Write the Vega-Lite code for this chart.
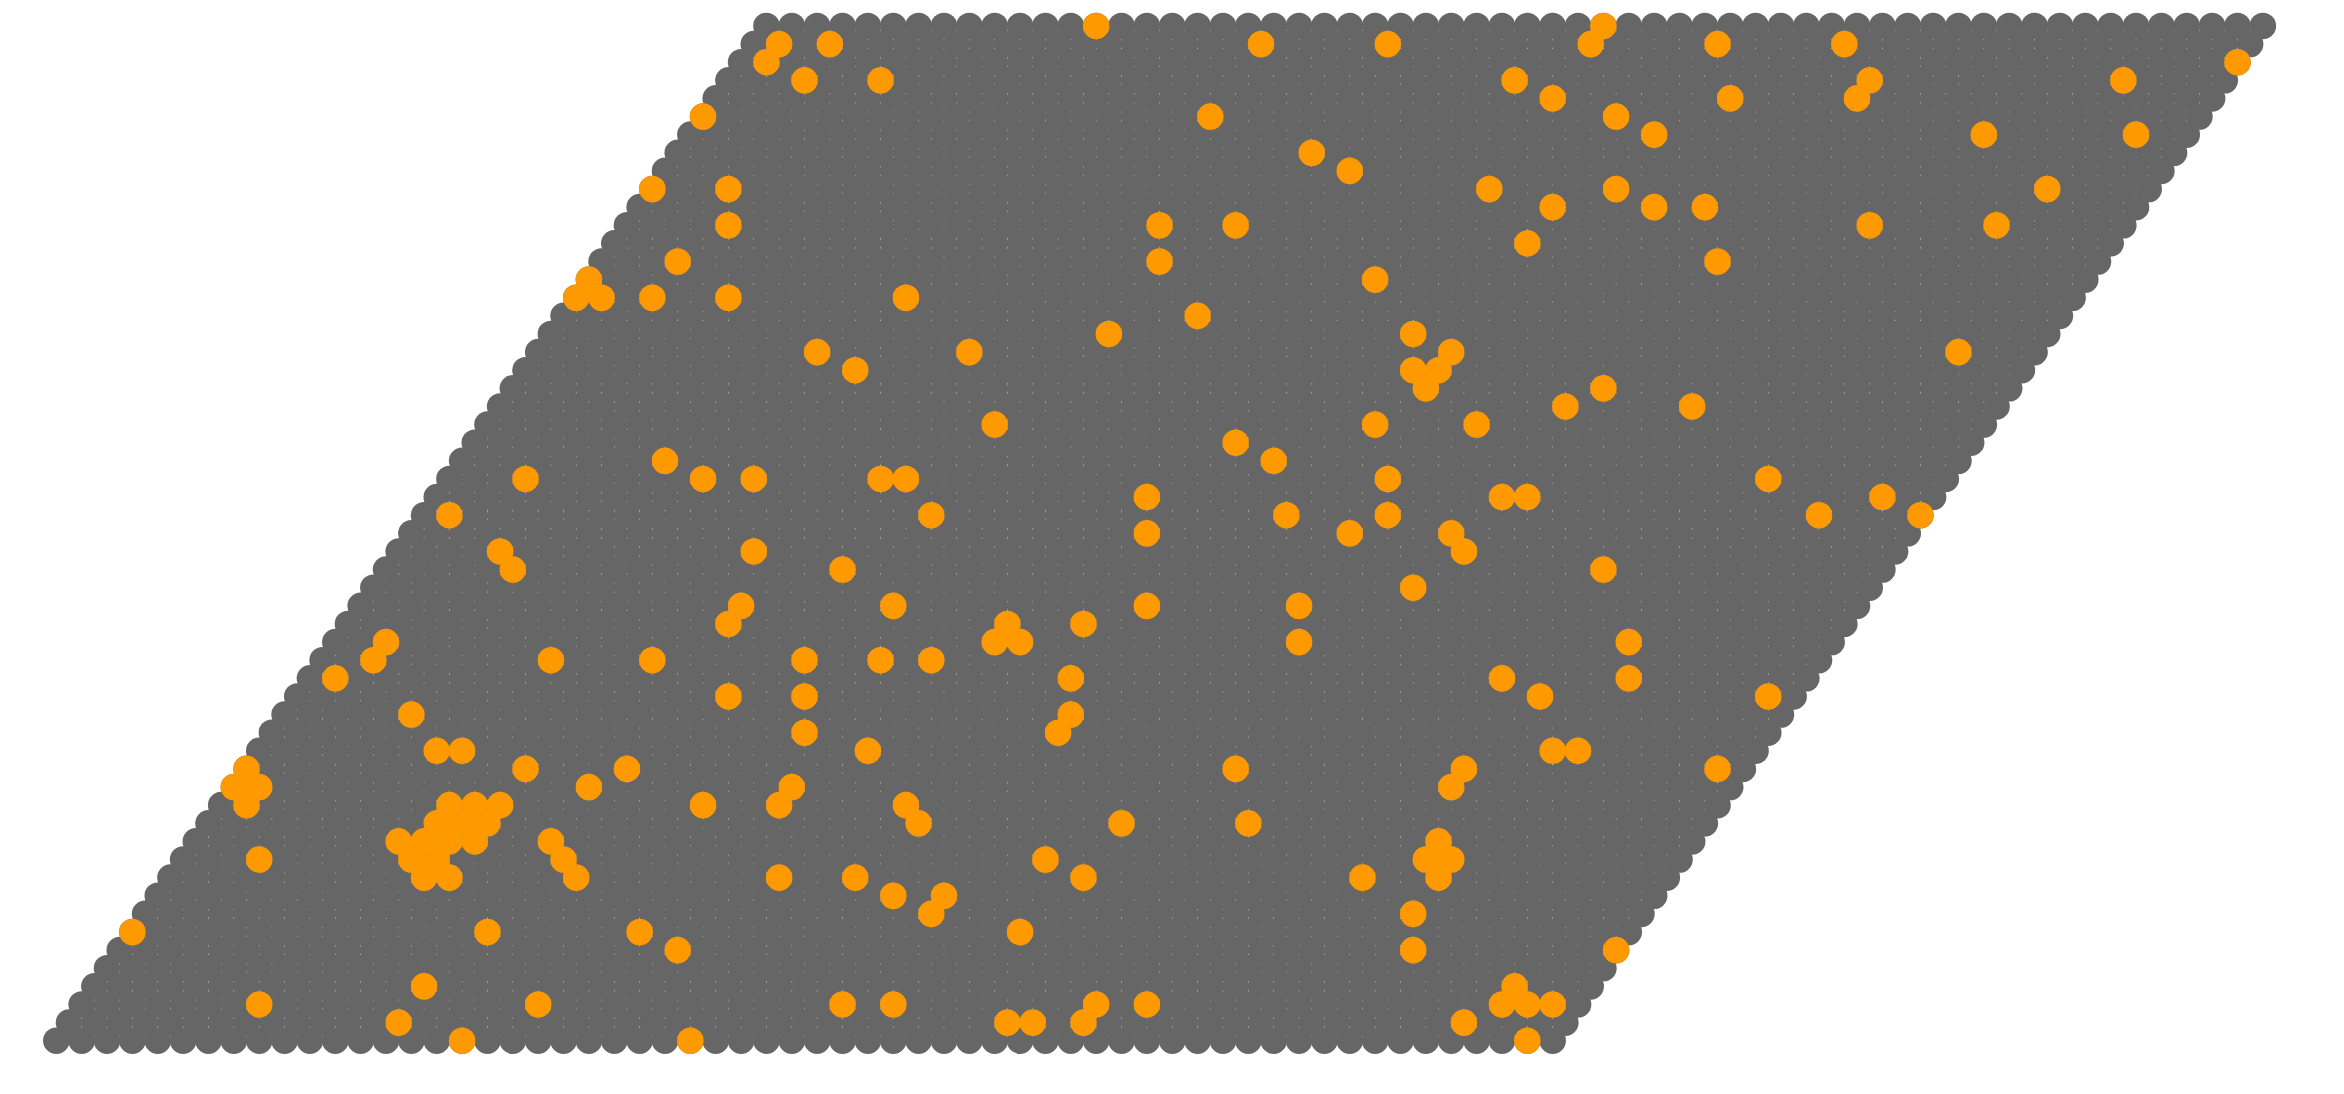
{
"$schema": "https://vega.github.io/schema/vega-lite/v6.json",
"width": 2344,
"height": 1094,
"autosize": "none",
"padding": 0,
"background": "white",
"config": {"view": {"stroke": null}},
"datasets": {
"cells": [
{"row":0,"col":[0,2,4,6,8,10,12,14,16,18,20,22,24,26,28,30,32,34,36,38,40,42,44,46,48,50,52,54,56,58,60,62,64,66,68,70,72,74,76,78,80,82,84,86,88,90,92,94,96,98,100,102,104,106,108,110,112,114,116,118]},
{"row":1,"col":[1,3,5,7,9,11,13,15,17,19,21,23,25,27,29,31,33,35,37,39,41,43,45,47,49,51,53,55,57,59,61,63,65,67,69,71,73,75,77,79,81,83,85,87,89,91,93,95,97,99,101,103,105,107,109,111,113,115,117,119]},
{"row":2,"col":[2,4,6,8,10,12,14,16,18,20,22,24,26,28,30,32,34,36,38,40,42,44,46,48,50,52,54,56,58,60,62,64,66,68,70,72,74,76,78,80,82,84,86,88,90,92,94,96,98,100,102,104,106,108,110,112,114,116,118,120]},
{"row":3,"col":[3,5,7,9,11,13,15,17,19,21,23,25,27,29,31,33,35,37,39,41,43,45,47,49,51,53,55,57,59,61,63,65,67,69,71,73,75,77,79,81,83,85,87,89,91,93,95,97,99,101,103,105,107,109,111,113,115,117,119,121]},
{"row":4,"col":[4,6,8,10,12,14,16,18,20,22,24,26,28,30,32,34,36,38,40,42,44,46,48,50,52,54,56,58,60,62,64,66,68,70,72,74,76,78,80,82,84,86,88,90,92,94,96,98,100,102,104,106,108,110,112,114,116,118,120,122]},
{"row":5,"col":[5,7,9,11,13,15,17,19,21,23,25,27,29,31,33,35,37,39,41,43,45,47,49,51,53,55,57,59,61,63,65,67,69,71,73,75,77,79,81,83,85,87,89,91,93,95,97,99,101,103,105,107,109,111,113,115,117,119,121,123]},
{"row":6,"col":[6,8,10,12,14,16,18,20,22,24,26,28,30,32,34,36,38,40,42,44,46,48,50,52,54,56,58,60,62,64,66,68,70,72,74,76,78,80,82,84,86,88,90,92,94,96,98,100,102,104,106,108,110,112,114,116,118,120,122,124]},
{"row":7,"col":[7,9,11,13,15,17,19,21,23,25,27,29,31,33,35,37,39,41,43,45,47,49,51,53,55,57,59,61,63,65,67,69,71,73,75,77,79,81,83,85,87,89,91,93,95,97,99,101,103,105,107,109,111,113,115,117,119,121,123,125]},
{"row":8,"col":[8,10,12,14,16,18,20,22,24,26,28,30,32,34,36,38,40,42,44,46,48,50,52,54,56,58,60,62,64,66,68,70,72,74,76,78,80,82,84,86,88,90,92,94,96,98,100,102,104,106,108,110,112,114,116,118,120,122,124,126]},
{"row":9,"col":[9,11,13,15,17,19,21,23,25,27,29,31,33,35,37,39,41,43,45,47,49,51,53,55,57,59,61,63,65,67,69,71,73,75,77,79,81,83,85,87,89,91,93,95,97,99,101,103,105,107,109,111,113,115,117,119,121,123,125,127]},
{"row":10,"col":[10,12,14,16,18,20,22,24,26,28,30,32,34,36,38,40,42,44,46,48,50,52,54,56,58,60,62,64,66,68,70,72,74,76,78,80,82,84,86,88,90,92,94,96,98,100,102,104,106,108,110,112,114,116,118,120,122,124,126,128]},
{"row":11,"col":[11,13,15,17,19,21,23,25,27,29,31,33,35,37,39,41,43,45,47,49,51,53,55,57,59,61,63,65,67,69,71,73,75,77,79,81,83,85,87,89,91,93,95,97,99,101,103,105,107,109,111,113,115,117,119,121,123,125,127,129]},
{"row":12,"col":[12,14,16,18,20,22,24,26,28,30,32,34,36,38,40,42,44,46,48,50,52,54,56,58,60,62,64,66,68,70,72,74,76,78,80,82,84,86,88,90,92,94,96,98,100,102,104,106,108,110,112,114,116,118,120,122,124,126,128,130]},
{"row":13,"col":[13,15,17,19,21,23,25,27,29,31,33,35,37,39,41,43,45,47,49,51,53,55,57,59,61,63,65,67,69,71,73,75,77,79,81,83,85,87,89,91,93,95,97,99,101,103,105,107,109,111,113,115,117,119,121,123,125,127,129,131]},
{"row":14,"col":[14,16,18,20,22,24,26,28,30,32,34,36,38,40,42,44,46,48,50,52,54,56,58,60,62,64,66,68,70,72,74,76,78,80,82,84,86,88,90,92,94,96,98,100,102,104,106,108,110,112,114,116,118,120,122,124,126,128,130,132]},
{"row":15,"col":[15,17,19,21,23,25,27,29,31,33,35,37,39,41,43,45,47,49,51,53,55,57,59,61,63,65,67,69,71,73,75,77,79,81,83,85,87,89,91,93,95,97,99,101,103,105,107,109,111,113,115,117,119,121,123,125,127,129,131,133]},
{"row":16,"col":[16,18,20,22,24,26,28,30,32,34,36,38,40,42,44,46,48,50,52,54,56,58,60,62,64,66,68,70,72,74,76,78,80,82,84,86,88,90,92,94,96,98,100,102,104,106,108,110,112,114,116,118,120,122,124,126,128,130,132,134]},
{"row":17,"col":[17,19,21,23,25,27,29,31,33,35,37,39,41,43,45,47,49,51,53,55,57,59,61,63,65,67,69,71,73,75,77,79,81,83,85,87,89,91,93,95,97,99,101,103,105,107,109,111,113,115,117,119,121,123,125,127,129,131,133,135]},
{"row":18,"col":[18,20,22,24,26,28,30,32,34,36,38,40,42,44,46,48,50,52,54,56,58,60,62,64,66,68,70,72,74,76,78,80,82,84,86,88,90,92,94,96,98,100,102,104,106,108,110,112,114,116,118,120,122,124,126,128,130,132,134,136]},
{"row":19,"col":[19,21,23,25,27,29,31,33,35,37,39,41,43,45,47,49,51,53,55,57,59,61,63,65,67,69,71,73,75,77,79,81,83,85,87,89,91,93,95,97,99,101,103,105,107,109,111,113,115,117,119,121,123,125,127,129,131,133,135,137]},
{"row":20,"col":[20,22,24,26,28,30,32,34,36,38,40,42,44,46,48,50,52,54,56,58,60,62,64,66,68,70,72,74,76,78,80,82,84,86,88,90,92,94,96,98,100,102,104,106,108,110,112,114,116,118,120,122,124,126,128,130,132,134,136,138]},
{"row":21,"col":[21,23,25,27,29,31,33,35,37,39,41,43,45,47,49,51,53,55,57,59,61,63,65,67,69,71,73,75,77,79,81,83,85,87,89,91,93,95,97,99,101,103,105,107,109,111,113,115,117,119,121,123,125,127,129,131,133,135,137,139]},
{"row":22,"col":[22,24,26,28,30,32,34,36,38,40,42,44,46,48,50,52,54,56,58,60,62,64,66,68,70,72,74,76,78,80,82,84,86,88,90,92,94,96,98,100,102,104,106,108,110,112,114,116,118,120,122,124,126,128,130,132,134,136,138,140]},
{"row":23,"col":[23,25,27,29,31,33,35,37,39,41,43,45,47,49,51,53,55,57,59,61,63,65,67,69,71,73,75,77,79,81,83,85,87,89,91,93,95,97,99,101,103,105,107,109,111,113,115,117,119,121,123,125,127,129,131,133,135,137,139,141]},
{"row":24,"col":[24,26,28,30,32,34,36,38,40,42,44,46,48,50,52,54,56,58,60,62,64,66,68,70,72,74,76,78,80,82,84,86,88,90,92,94,96,98,100,102,104,106,108,110,112,114,116,118,120,122,124,126,128,130,132,134,136,138,140,142]},
{"row":25,"col":[25,27,29,31,33,35,37,39,41,43,45,47,49,51,53,55,57,59,61,63,65,67,69,71,73,75,77,79,81,83,85,87,89,91,93,95,97,99,101,103,105,107,109,111,113,115,117,119,121,123,125,127,129,131,133,135,137,139,141,143]},
{"row":26,"col":[26,28,30,32,34,36,38,40,42,44,46,48,50,52,54,56,58,60,62,64,66,68,70,72,74,76,78,80,82,84,86,88,90,92,94,96,98,100,102,104,106,108,110,112,114,116,118,120,122,124,126,128,130,132,134,136,138,140,142,144]},
{"row":27,"col":[27,29,31,33,35,37,39,41,43,45,47,49,51,53,55,57,59,61,63,65,67,69,71,73,75,77,79,81,83,85,87,89,91,93,95,97,99,101,103,105,107,109,111,113,115,117,119,121,123,125,127,129,131,133,135,137,139,141,143,145]},
{"row":28,"col":[28,30,32,34,36,38,40,42,44,46,48,50,52,54,56,58,60,62,64,66,68,70,72,74,76,78,80,82,84,86,88,90,92,94,96,98,100,102,104,106,108,110,112,114,116,118,120,122,124,126,128,130,132,134,136,138,140,142,144,146]},
{"row":29,"col":[29,31,33,35,37,39,41,43,45,47,49,51,53,55,57,59,61,63,65,67,69,71,73,75,77,79,81,83,85,87,89,91,93,95,97,99,101,103,105,107,109,111,113,115,117,119,121,123,125,127,129,131,133,135,137,139,141,143,145,147]},
{"row":30,"col":[30,32,34,36,38,40,42,44,46,48,50,52,54,56,58,60,62,64,66,68,70,72,74,76,78,80,82,84,86,88,90,92,94,96,98,100,102,104,106,108,110,112,114,116,118,120,122,124,126,128,130,132,134,136,138,140,142,144,146,148]},
{"row":31,"col":[31,33,35,37,39,41,43,45,47,49,51,53,55,57,59,61,63,65,67,69,71,73,75,77,79,81,83,85,87,89,91,93,95,97,99,101,103,105,107,109,111,113,115,117,119,121,123,125,127,129,131,133,135,137,139,141,143,145,147,149]},
{"row":32,"col":[32,34,36,38,40,42,44,46,48,50,52,54,56,58,60,62,64,66,68,70,72,74,76,78,80,82,84,86,88,90,92,94,96,98,100,102,104,106,108,110,112,114,116,118,120,122,124,126,128,130,132,134,136,138,140,142,144,146,148,150]},
{"row":33,"col":[33,35,37,39,41,43,45,47,49,51,53,55,57,59,61,63,65,67,69,71,73,75,77,79,81,83,85,87,89,91,93,95,97,99,101,103,105,107,109,111,113,115,117,119,121,123,125,127,129,131,133,135,137,139,141,143,145,147,149,151]},
{"row":34,"col":[34,36,38,40,42,44,46,48,50,52,54,56,58,60,62,64,66,68,70,72,74,76,78,80,82,84,86,88,90,92,94,96,98,100,102,104,106,108,110,112,114,116,118,120,122,124,126,128,130,132,134,136,138,140,142,144,146,148,150,152]},
{"row":35,"col":[35,37,39,41,43,45,47,49,51,53,55,57,59,61,63,65,67,69,71,73,75,77,79,81,83,85,87,89,91,93,95,97,99,101,103,105,107,109,111,113,115,117,119,121,123,125,127,129,131,133,135,137,139,141,143,145,147,149,151,153]},
{"row":36,"col":[36,38,40,42,44,46,48,50,52,54,56,58,60,62,64,66,68,70,72,74,76,78,80,82,84,86,88,90,92,94,96,98,100,102,104,106,108,110,112,114,116,118,120,122,124,126,128,130,132,134,136,138,140,142,144,146,148,150,152,154]},
{"row":37,"col":[37,39,41,43,45,47,49,51,53,55,57,59,61,63,65,67,69,71,73,75,77,79,81,83,85,87,89,91,93,95,97,99,101,103,105,107,109,111,113,115,117,119,121,123,125,127,129,131,133,135,137,139,141,143,145,147,149,151,153,155]},
{"row":38,"col":[38,40,42,44,46,48,50,52,54,56,58,60,62,64,66,68,70,72,74,76,78,80,82,84,86,88,90,92,94,96,98,100,102,104,106,108,110,112,114,116,118,120,122,124,126,128,130,132,134,136,138,140,142,144,146,148,150,152,154,156]},
{"row":39,"col":[39,41,43,45,47,49,51,53,55,57,59,61,63,65,67,69,71,73,75,77,79,81,83,85,87,89,91,93,95,97,99,101,103,105,107,109,111,113,115,117,119,121,123,125,127,129,131,133,135,137,139,141,143,145,147,149,151,153,155,157]},
{"row":40,"col":[40,42,44,46,48,50,52,54,56,58,60,62,64,66,68,70,72,74,76,78,80,82,84,86,88,90,92,94,96,98,100,102,104,106,108,110,112,114,116,118,120,122,124,126,128,130,132,134,136,138,140,142,144,146,148,150,152,154,156,158]},
{"row":41,"col":[41,43,45,47,49,51,53,55,57,59,61,63,65,67,69,71,73,75,77,79,81,83,85,87,89,91,93,95,97,99,101,103,105,107,109,111,113,115,117,119,121,123,125,127,129,131,133,135,137,139,141,143,145,147,149,151,153,155,157,159]},
{"row":42,"col":[42,44,46,48,50,52,54,56,58,60,62,64,66,68,70,72,74,76,78,80,82,84,86,88,90,92,94,96,98,100,102,104,106,108,110,112,114,116,118,120,122,124,126,128,130,132,134,136,138,140,142,144,146,148,150,152,154,156,158,160]},
{"row":43,"col":[43,45,47,49,51,53,55,57,59,61,63,65,67,69,71,73,75,77,79,81,83,85,87,89,91,93,95,97,99,101,103,105,107,109,111,113,115,117,119,121,123,125,127,129,131,133,135,137,139,141,143,145,147,149,151,153,155,157,159,161]},
{"row":44,"col":[44,46,48,50,52,54,56,58,60,62,64,66,68,70,72,74,76,78,80,82,84,86,88,90,92,94,96,98,100,102,104,106,108,110,112,114,116,118,120,122,124,126,128,130,132,134,136,138,140,142,144,146,148,150,152,154,156,158,160,162]},
{"row":45,"col":[45,47,49,51,53,55,57,59,61,63,65,67,69,71,73,75,77,79,81,83,85,87,89,91,93,95,97,99,101,103,105,107,109,111,113,115,117,119,121,123,125,127,129,131,133,135,137,139,141,143,145,147,149,151,153,155,157,159,161,163]},
{"row":46,"col":[46,48,50,52,54,56,58,60,62,64,66,68,70,72,74,76,78,80,82,84,86,88,90,92,94,96,98,100,102,104,106,108,110,112,114,116,118,120,122,124,126,128,130,132,134,136,138,140,142,144,146,148,150,152,154,156,158,160,162,164]},
{"row":47,"col":[47,49,51,53,55,57,59,61,63,65,67,69,71,73,75,77,79,81,83,85,87,89,91,93,95,97,99,101,103,105,107,109,111,113,115,117,119,121,123,125,127,129,131,133,135,137,139,141,143,145,147,149,151,153,155,157,159,161,163,165]},
{"row":48,"col":[48,50,52,54,56,58,60,62,64,66,68,70,72,74,76,78,80,82,84,86,88,90,92,94,96,98,100,102,104,106,108,110,112,114,116,118,120,122,124,126,128,130,132,134,136,138,140,142,144,146,148,150,152,154,156,158,160,162,164,166]},
{"row":49,"col":[49,51,53,55,57,59,61,63,65,67,69,71,73,75,77,79,81,83,85,87,89,91,93,95,97,99,101,103,105,107,109,111,113,115,117,119,121,123,125,127,129,131,133,135,137,139,141,143,145,147,149,151,153,155,157,159,161,163,165,167]},
{"row":50,"col":[50,52,54,56,58,60,62,64,66,68,70,72,74,76,78,80,82,84,86,88,90,92,94,96,98,100,102,104,106,108,110,112,114,116,118,120,122,124,126,128,130,132,134,136,138,140,142,144,146,148,150,152,154,156,158,160,162,164,166,168]},
{"row":51,"col":[51,53,55,57,59,61,63,65,67,69,71,73,75,77,79,81,83,85,87,89,91,93,95,97,99,101,103,105,107,109,111,113,115,117,119,121,123,125,127,129,131,133,135,137,139,141,143,145,147,149,151,153,155,157,159,161,163,165,167,169]},
{"row":52,"col":[52,54,56,58,60,62,64,66,68,70,72,74,76,78,80,82,84,86,88,90,92,94,96,98,100,102,104,106,108,110,112,114,116,118,120,122,124,126,128,130,132,134,136,138,140,142,144,146,148,150,152,154,156,158,160,162,164,166,168,170]},
{"row":53,"col":[53,55,57,59,61,63,65,67,69,71,73,75,77,79,81,83,85,87,89,91,93,95,97,99,101,103,105,107,109,111,113,115,117,119,121,123,125,127,129,131,133,135,137,139,141,143,145,147,149,151,153,155,157,159,161,163,165,167,169,171]},
{"row":54,"col":[54,56,58,60,62,64,66,68,70,72,74,76,78,80,82,84,86,88,90,92,94,96,98,100,102,104,106,108,110,112,114,116,118,120,122,124,126,128,130,132,134,136,138,140,142,144,146,148,150,152,154,156,158,160,162,164,166,168,170,172]},
{"row":55,"col":[55,57,59,61,63,65,67,69,71,73,75,77,79,81,83,85,87,89,91,93,95,97,99,101,103,105,107,109,111,113,115,117,119,121,123,125,127,129,131,133,135,137,139,141,143,145,147,149,151,153,155,157,159,161,163,165,167,169,171,173]},
{"row":56,"col":[56,58,60,62,64,66,68,70,72,74,76,78,80,82,84,86,88,90,92,94,96,98,100,102,104,106,108,110,112,114,116,118,120,122,124,126,128,130,132,134,136,138,140,142,144,146,148,150,152,154,156,158,160,162,164,166,168,170,172,174]}
],
"highlighted": [
{"row":0,"col":[32,50,116]},
{"row":1,"col":[27,75,77,81,111]},
{"row":2,"col":[16,38,62,66,82,86,114,116,118]},
{"row":3,"col":[29,115]},
{"row":5,"col":[49,107,123]},
{"row":6,"col":[6,34,46,76]},
{"row":7,"col":[69,107]},
{"row":8,"col":[66,70]},
{"row":9,"col":[29,31,41,57,63,81,103,109]},
{"row":10,"col":[16,28,30,40,78,108,110]},
{"row":11,"col":[27,29,31,33,39,109]},
{"row":12,"col":[30,32,34,68,84,94]},
{"row":13,"col":[15,31,33,35,51,57,67]},
{"row":14,"col":[14,16,42,58,110]},
{"row":15,"col":[15,37,45,93,111,131]},
{"row":16,"col":[30,32,64,118,120]},
{"row":17,"col":[59,79]},
{"row":18,"col":[28,80]},
{"row":19,"col":[53,59,117,135]},
{"row":20,"col":[22,80,114,124]},
{"row":21,"col":[25,39,47,59,65,69]},
{"row":22,"col":[26,74,76,98,124]},
{"row":23,"col":[53,75,81]},
{"row":24,"col":[54,66,86,98]},
{"row":25,"col":[107]},
{"row":26,"col":[36,62,122]},
{"row":27,"col":[35,55,111]},
{"row":28,"col":[86,102,110]},
{"row":29,"col":[31,69,97,105,139,147]},
{"row":30,"col":[86,114,116,144]},
{"row":31,"col":[37,51,55,65,67,105,135]},
{"row":32,"col":[48,96]},
{"row":33,"col":[93]},
{"row":34,"col":[74,104,112]},
{"row":35,"col":[119,129]},
{"row":36,"col":[108,122]},
{"row":37,"col":[63,107,109]},
{"row":38,"col":[60,72,110,150]},
{"row":39,"col":[83,107]},
{"row":40,"col":[90]},
{"row":41,"col":[41,43,47,53,67]},
{"row":42,"col":[42,104]},
{"row":43,"col":[49,87,131]},
{"row":44,"col":[116]},
{"row":45,"col":[53,87,93,143,153]},
{"row":46,"col":[118,126,130]},
{"row":47,"col":[47,53,113,123,157]},
{"row":48,"col":[102]},
{"row":49,"col":[99]},
{"row":50,"col":[126,152,164]},
{"row":51,"col":[51,91,123]},
{"row":52,"col":[118,132,142]},
{"row":53,"col":[59,65,115,143,163]},
{"row":54,"col":[56,172]},
{"row":55,"col":[57,61,95,105,121,131,141]},
{"row":56,"col":[82,122]}
]
},
"layer": [
{
"data": {"name": "cells"},
"transform": [{"flatten": ["col"]}],
"mark": {"type": "circle", "size": 705, "color": "#666666", "opacity": 1},
"encoding": {
"x": {"field": "col", "type": "quantitative", "scale": {"domain": [-4.44, 180.4], "nice": false, "zero": false}, "axis": null},
"y": {"field": "row", "type": "quantitative", "scale": {"domain": [-2.94, 57.43], "nice": false, "zero": false}, "axis": null}
}
},
{
"data": {"name": "highlighted"},
"transform": [{"flatten": ["col"]}],
"mark": {"type": "circle", "size": 705, "color": "#ff9900", "opacity": 1},
"encoding": {
"x": {"field": "col", "type": "quantitative"},
"y": {"field": "row", "type": "quantitative"}
}
}
]
}
